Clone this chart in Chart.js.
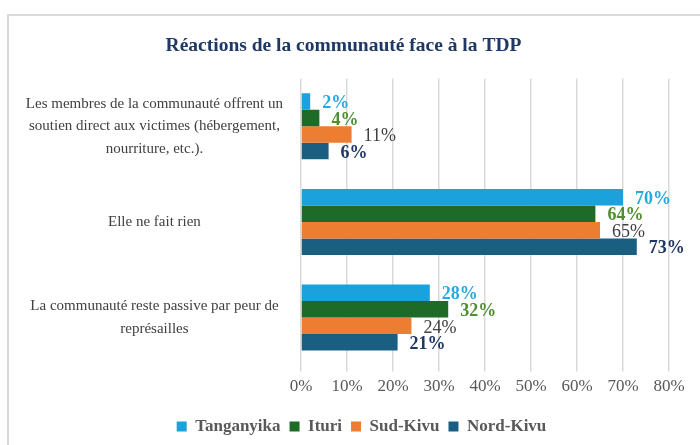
<!DOCTYPE html>
<html>
<head>
<meta charset="utf-8">
<script src="https://cdn.jsdelivr.net/npm/chart.js@4"></script>
<style>
  html, body { margin: 0; padding: 0; background: #fff; }
  #wrap { width: 700px; height: 445px; position: relative; }
</style>
</head>
<body>
<div id="wrap"><canvas id="chart" width="700" height="445"></canvas></div>
<script>
const categories = [
    ['Les membres de la communauté offrent un', 'soutien direct aux victimes (hébergement,', 'nourriture, etc.).'],
    'Elle ne fait rien',
    ['La communauté reste passive par peur de', 'représailles']
];
const seriesNames = ['Tanganyika', 'Ituri', 'Sud-Kivu', 'Nord-Kivu'];
const tanganyika = [2, 70, 28];
const ituri = [4, 64, 32];
const sudKivu = [11, 65, 24];
const nordKivu = [6, 73, 21];
const xTicks = [0, 10, 20, 30, 40, 50, 60, 70, 80];

const barColors = ['#1BA1DC', '#1E6B28', '#ED7D31', '#1A5F82'];
const labelColors = ['#25A9E2', '#4E8F2F', '#404040', '#1F3864'];
const labelBold = [true, true, false, true];

const serif = "'Liberation Serif', 'Times New Roman', serif";

// draws the value labels after each bar end
const valueLabels = {
    id: 'valueLabels',
    afterDatasetsDraw(chart) {
        const ctx = chart.ctx;
        ctx.save();
        chart.data.datasets.forEach((ds, i) => {
            const meta = chart.getDatasetMeta(i);
            ctx.fillStyle = labelColors[i];
            ctx.font = (labelBold[i] ? 'bold ' : '') + '18px ' + serif;
            ctx.textAlign = 'left';
            ctx.textBaseline = 'middle';
            meta.data.forEach((bar, j) => {
                ctx.fillText(ds.data[j] + '%', bar.x + 12, bar.y + 2);
            });
        });
        ctx.restore();
    }
};

// outer frame like the office chart box
const frame = {
    id: 'frame',
    beforeDraw(chart) {
        const ctx = chart.ctx;
        ctx.save();
        ctx.strokeStyle = '#d9d9d9';
        ctx.lineWidth = 2;
        ctx.strokeRect(8, 15, 720, 460);
        ctx.restore();
    }
};

// legend sits a bit right of the title in the original
const shiftLegend = {
    id: 'shiftLegend',
    afterLayout(chart) {
        if (chart.legend) {
            chart.legend.left += 18;
            chart.legend.right += 18;
        }
    }
};

const chartConfig = {
    type: 'bar',
    data: {
        labels: categories,
        datasets: [
            { label: seriesNames[0], data: tanganyika },
            { label: seriesNames[1], data: ituri },
            { label: seriesNames[2], data: sudKivu },
            { label: seriesNames[3], data: nordKivu }
        ].map((d, i) => ({
            ...d,
            backgroundColor: barColors[i],
            borderWidth: 0,
            barPercentage: 1,
            categoryPercentage: 0.69
        }))
    },
    options: {
        responsive: false,
        animation: false,
        indexAxis: 'y',
        layout: { padding: { left: 18, right: 31, top: 34, bottom: 0 } },
        scales: {
            x: {
                min: 0,
                max: 80,
                afterBuildTicks: (scale) => {
                    scale.ticks = xTicks.map(v => ({ value: v }));
                },
                ticks: {
                    callback: (value) => value + '%',
                    color: '#595959',
                    font: { family: serif, size: 17 },
                    padding: 5,
                    maxRotation: 0
                },
                grid: { color: '#d9d9d9', lineWidth: 1.5, tickLength: 6, drawTicks: true },
                border: { display: false },
                title: { display: true, text: '', font: { size: 1 }, padding: { top: 0, bottom: 6 } }
            },
            y: {
                afterFit: (scale) => { scale.width = 283; },
                ticks: {
                    color: '#404040',
                    font: { family: serif, size: 15, lineHeight: 1.5 },
                    crossAlign: 'center',
                    padding: 10
                },
                grid: { display: false },
                border: { display: false }
            }
        },
        plugins: {
            title: {
                display: true,
                text: 'Réactions de la communauté face à la TDP',
                color: '#1F3864',
                font: { family: serif, size: 19.5, weight: 'bold' },
                padding: { top: 0, bottom: 21 }
            },
            legend: {
                position: 'bottom',
                onClick: null,
                labels: {
                    usePointStyle: true,
                    pointStyle: 'rect',
                    boxWidth: 10,
                    boxHeight: 10,
                    padding: 9,
                    color: '#595959',
                    font: { family: serif, size: 17, weight: 'bold' }
                }
            },
            tooltip: { enabled: false }
        }
    },
    plugins: [frame, valueLabels, shiftLegend]
};

new Chart(document.getElementById('chart'), chartConfig);
</script>
</body>
</html>
